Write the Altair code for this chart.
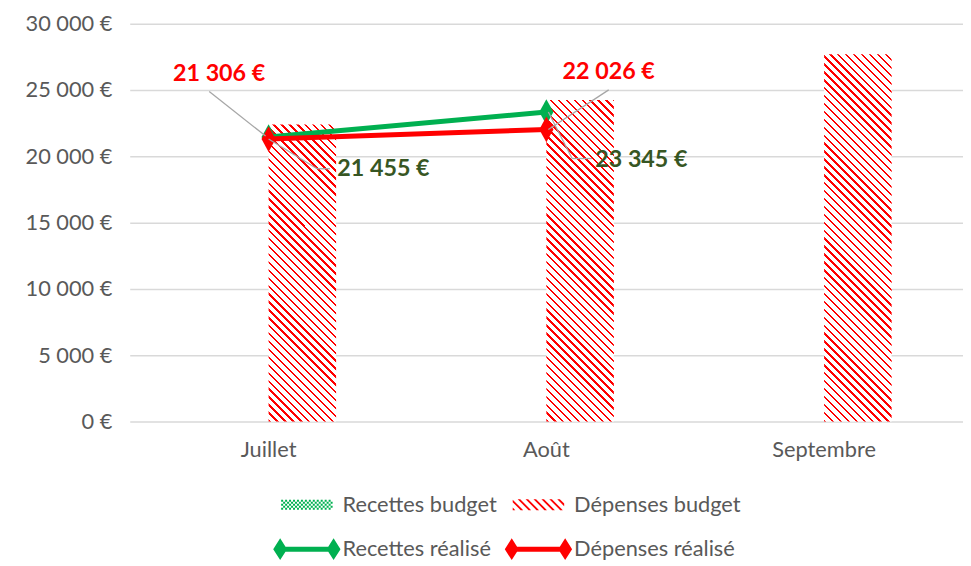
import altair as alt
import pandas as pd

# ---------------- data ----------------
mois = ["Juillet", "Août", "Septembre"]
recettes_budget = [None, None, None]
depenses_budget = [22400, 24250, 27700]
recettes_realise = [21455, 23345, None]
depenses_realise = [21306, 22026, None]
series = ["Recettes budget", "Dépenses budget", "Recettes réalisé", "Dépenses réalisé"]

# ---------------- styles ----------------
W, H = 842, 402
YMAX = 30000
GREEN = "#00b050"
RED = "#ff0000"
LABEL_GREEN = "#375623"
GREY = "#595959"
LEADER = "#a6a6a6"
FONT = "Lato"
PAD_INNER = 0.514
BAR_W = W / 3 * (1 - PAD_INNER) / 2

budget_df = pd.DataFrame({
    "mois": mois * 2,
    "serie": ["Recettes budget"] * 3 + ["Dépenses budget"] * 3,
    "v": recettes_budget + depenses_budget,
})
real_df = pd.DataFrame({
    "mois": mois * 2,
    "serie": ["Recettes réalisé"] * 3 + ["Dépenses réalisé"] * 3,
    "v": recettes_realise + depenses_realise,
})

FMT = "replace(format(datum.v, ',.0f'), ',', ' ') + ' €'"

x_enc = alt.X("mois:N", scale=alt.Scale(domain=mois, paddingInner=PAD_INNER, paddingOuter=PAD_INNER / 2),
              axis=alt.Axis(title=None, domain=False, ticks=False, labelPadding=18, labelFont=FONT,
                            labelFontSize=22, labelColor=GREY, labelAngle=0, grid=False))
y_enc = alt.Y("v:Q", scale=alt.Scale(domain=[0, YMAX], nice=False),
              axis=alt.Axis(title=None, values=list(range(0, YMAX + 1, 5000)), domain=False, ticks=False,
                            labelPadding=18, labelFont=FONT, labelFontSize=22, labelColor=GREY,
                            gridColor="#d9d9d9", gridWidth=1.5,
                            labelExpr="replace(format(datum.value, ',.0f'), ',', ' ') + ' €'"))
xoff_enc = alt.XOffset("serie:N", scale=alt.Scale(domain=series[:2], paddingInner=0, paddingOuter=0))


def hatch_gradient(w, h, period=8.0, ink=2.4):
    L = w + h
    c = L / (w * w + h * h)
    stops = []
    pos = 0.0
    while pos < L:
        a = round(pos / L, 5)
        b = round(min(pos + ink, L) / L, 5)
        e = round(min(pos + period, L) / L, 5)
        stops += [{"offset": a, "color": RED}, {"offset": b, "color": RED},
                  {"offset": b, "color": "#ffffff"}, {"offset": e, "color": "#ffffff"}]
        pos += period
    return {"gradient": "linear", "x1": 0, "y1": 1, "x2": round(c * w, 5), "y2": round(1 - c * h, 5),
            "stops": stops}


def clip(poly, xa, xb):
    def cut(pts, inside, inter):
        out = []
        for i in range(len(pts)):
            p, q = pts[i - 1], pts[i]
            if inside(q):
                if not inside(p):
                    out.append(inter(p, q))
                out.append(q)
            elif inside(p):
                out.append(inter(p, q))
        return out

    def ix(xc):
        def f(p, q):
            t = (xc - p[0]) / (q[0] - p[0])
            return (xc, p[1] + t * (q[1] - p[1]))
        return f
    poly = cut(poly, lambda p: p[0] >= xa, ix(xa))
    if poly:
        poly = cut(poly, lambda p: p[0] <= xb, ix(xb))
    return poly


def path_of(polys):
    s = ""
    for poly in polys:
        if len(poly) < 3:
            continue
        s += "M" + "L".join(f"{x:.4f},{y:.4f}" for x, y in poly) + "Z"
    return s


U = 34.0  # px per unit for legend symbols (size = 68^2)
hw, hh = 26 / U, 5.5 / U
hatch_polys = []
per, ink = 8 / U, 2.6 / U
s = -hw - 2 * hh
while s < hw:
    par = [(s, -hh), (s + ink, -hh), (s + ink + 2 * hh, hh), (s + 2 * hh, hh)]
    hatch_polys.append(clip(par, -hw, hw))
    s += per
HATCH_SYM = path_of(hatch_polys)
cell = 2 / U
check_polys = []
for i in range(26):
    for j in range(5):
        if (i + j) % 2 == 0:
            x0, y0 = -hw + i * cell, -5 / U + j * cell
            check_polys.append([(x0, y0), (x0 + cell, y0), (x0 + cell, y0 + cell), (x0, y0 + cell)])
CHECK_SYM = path_of(check_polys)
dw, dh, lt = 7 / U, 11 / U, 2.5 / U
LINE_SYM = path_of([
    [(-1, 0), (-1 + dw, -dh), (-1 + 2 * dw, 0), (-1 + dw, dh)],
    [(1 - 2 * dw, 0), (1 - dw, -dh), (1, 0), (1 - dw, dh)],
    [(-1 + dw, -lt), (1 - dw, -lt), (1 - dw, lt), (-1 + dw, lt)],
])
DIAMOND = "M0,-1L0.55,0L0,1L-0.55,0Z"

layers = []

for m, v in zip(mois, depenses_budget):
    h = v / YMAX * H
    layers.append(
        alt.Chart(budget_df)
        .transform_filter(f"datum.mois == '{m}' && datum.serie == 'Dépenses budget'")
        .mark_bar(fill=hatch_gradient(BAR_W, h))
        .encode(x=x_enc, xOffset=xoff_enc, y=y_enc)
    )

for serie, col in [("Recettes réalisé", GREEN), ("Dépenses réalisé", RED)]:
    base = alt.Chart(real_df).transform_filter(alt.datum.serie == serie)
    layers.append(base.mark_line(color=col, strokeWidth=5).encode(x=x_enc, y=y_enc))
    layers.append(base.mark_point(shape=DIAMOND, size=676, filled=True, color=col, opacity=1)
                  .encode(x=x_enc, y=y_enc))

label_specs = [
    ("Juillet", "Dépenses réalisé", RED, -50, -66, [(-3, -3, -60, -48)]),
    ("Juillet", "Recettes réalisé", LABEL_GREEN, 116, 32, [(0, 2, 49, 32), (49, 32, 62, 32)]),
    ("Août", "Dépenses réalisé", RED, 63, -58, [(2, 0, 63, -40)]),
    ("Août", "Recettes réalisé", LABEL_GREEN, 96, 49, [(2, 0, 26, 47), (26, 47, 46, 47)]),
]
for m, serie, col, dx, dy, segs in label_specs:
    base = alt.Chart(real_df).transform_filter(
        f"datum.mois == '{m}' && datum.serie == '{serie}'").transform_calculate(txt=FMT)
    for (ax, ay, bx, by) in segs:
        layers.append(
            base.mark_rule(color=LEADER, strokeWidth=1.3, xOffset=ax, yOffset=ay, x2Offset=bx, y2Offset=by)
            .encode(x=alt.X("mois:N"), x2=alt.X2("mois:N"), y=alt.Y("v:Q"), y2=alt.Y2("v:Q"))
        )
    layers.append(
        base.mark_text(dx=dx, dy=dy, font=FONT, fontSize=23.5, fontWeight="bold", color=col,
                       align="center", baseline="middle")
        .encode(x=alt.X("mois:N"), y=alt.Y("v:Q"), text="txt:N")
    )

leg = alt.Legend(title=None, orient="none", legendX=145, legendY=452, columns=2, direction="horizontal",
                 labelFont=FONT, labelFontSize=22, labelColor=GREY, labelLimit=400, symbolSize=4624,
                 symbolStrokeWidth=0, labelOffset=2, columnPadding=8, rowPadding=0, symbolOpacity=1)
layers.append(
    alt.Chart(pd.DataFrame({"serie": series})).transform_filter("false")
    .mark_point(filled=True, opacity=1)
    .encode(color=alt.Color("serie:N", scale=alt.Scale(domain=series, range=[GREEN, RED, GREEN, RED]), legend=leg),
            shape=alt.Shape("serie:N", scale=alt.Scale(domain=series, range=[CHECK_SYM, HATCH_SYM, LINE_SYM, LINE_SYM]),
                            legend=leg))
)

chart = (
    alt.layer(*layers)
    .properties(width=W, height=H, padding={"left": 17, "top": 2, "right": 0, "bottom": 0})
    .configure_view(stroke=None)
)
chart.save("out.html", embed_options={"renderer": "svg", "actions": False})
